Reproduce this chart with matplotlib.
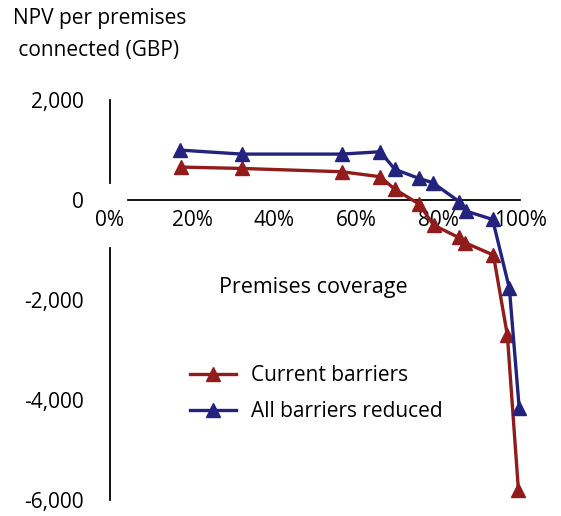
import numpy as np
import matplotlib.pyplot as plt
from matplotlib.ticker import FuncFormatter

# coverage (fraction of premises) and NPV per premises connected (GBP)
cov_current = [0.173, 0.321, 0.565, 0.659, 0.695, 0.754, 0.789, 0.850, 0.866, 0.935, 0.969, 0.996]
npv_current = [660, 633, 567, 467, 213, -80, -500, -747, -853, -1100, -2700, -5800]

cov_reduced = [0.171, 0.321, 0.565, 0.659, 0.695, 0.754, 0.787, 0.852, 0.868, 0.933, 0.974, 0.998]
npv_reduced = [1000, 920, 920, 967, 613, 433, 347, -33, -220, -387, -1767, -4167]

x_ticks = [0, 0.2, 0.4, 0.6, 0.8, 1.0]
y_ticks = [-6000, -4000, -2000, 0, 2000]

plt.rcParams['font.family'] = ['Open Sans', 'DejaVu Sans']

fig = plt.figure(figsize=(5.61, 5.16), dpi=100)
ax = fig.add_axes([0.196, 0.031, 0.731, 0.775])

red = '#921B1B'
blue = '#23237E'
ax.plot(cov_current, npv_current, color=red, lw=2.4, marker='^', ms=10, label='Current barriers', clip_on=False, zorder=4)
ax.plot(cov_reduced, npv_reduced, color=blue, lw=2.4, marker='^', ms=10, label='All barriers reduced', clip_on=False, zorder=5)

ax.set_xlim(0, 1)
ax.set_ylim(-6000, 2000)

for s in ['top', 'right', 'left']:
    ax.spines[s].set_visible(False)
ax.spines['bottom'].set_position(('data', 0))
ax.spines['bottom'].set_bounds(0.044, 1.0)
ax.spines['bottom'].set_linewidth(1.3)

# y axis drawn in two pieces (broken around the 0% label)
ax.axvline(0, ymin=(340 + 6000) / 8000, ymax=1, color='black', lw=1.3, clip_on=False)
ax.axvline(0, ymin=0, ymax=(6000 - 960) / 8000, color='black', lw=1.3, clip_on=False)

ax.set_xticks(x_ticks)
ax.xaxis.set_major_formatter(FuncFormatter(lambda v, p: f'{v:.0%}'))
ax.set_yticks(y_ticks)
ax.yaxis.set_major_formatter(FuncFormatter(lambda v, p: f'{v:,.0f}'))
ax.tick_params(axis='x', length=0, pad=7, labelsize=15)
ax.tick_params(axis='y', length=0, pad=19, labelsize=15)

fig.text(0.023, 0.985, 'NPV per premises\n connected (GBP)', ha='left', va='top', fontsize=15, linespacing=1.7)
ax.text(0.495, -1750, 'Premises coverage', ha='center', va='center', fontsize=15.5)

ax.legend(loc='upper left', bbox_to_anchor=(0.15, 0.385), frameon=False, fontsize=15,
          handlelength=2.2, handletextpad=0.7, labelspacing=0.75)

fig.savefig('out.png', dpi=100)
